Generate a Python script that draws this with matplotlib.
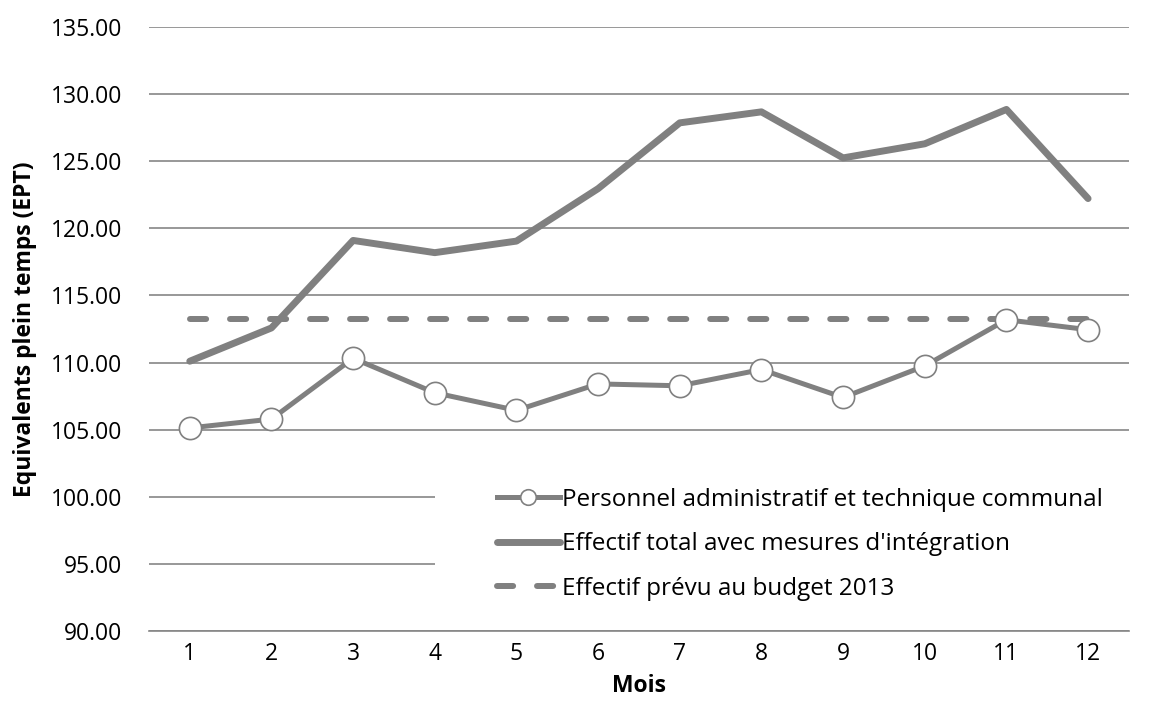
import matplotlib
matplotlib.use("Agg")
import matplotlib.pyplot as plt
from matplotlib.patches import Rectangle

# valeurs
mois = list(range(1, 13))
personnel = [105.13, 105.79, 110.32, 107.75, 106.44, 108.41,
             108.27, 109.48, 107.40, 109.75, 113.19, 112.45]
effectif_total = [110.10, 112.58, 119.10, 118.19, 119.05, 122.96,
                  127.86, 128.68, 125.25, 126.30, 128.86, 122.22]
budget = [113.25] * 12
y_ticks = [90, 95, 100, 105, 110, 115, 120, 125, 130, 135]

gris = "#808080"
fs = 16.5
plt.rcParams["font.family"] = ["Open Sans", "DejaVu Sans"]

fig = plt.figure(figsize=(11.6, 7.04), dpi=100)
ax = fig.add_axes([0.1284, 0.1037, 0.8448, 0.8579])

ax.plot(mois, effectif_total, color=gris, lw=5, solid_capstyle="round",
        solid_joinstyle="round", label="Effectif total avec mesures d'intégration", zorder=3)
ax.plot(mois, budget, color=gris, lw=4.3, linestyle=(0, (2.7, 4.0)),
        dash_capstyle="round", label="Effectif prévu au budget 2013", zorder=3)
ax.plot(mois, personnel, color=gris, lw=3.6, marker="o", markersize=16,
        markerfacecolor="white", markeredgecolor=gris, markeredgewidth=1.2,
        label="Personnel administratif et technique communal", zorder=4)

ax.set_xlim(0.5, 12.5)
ax.set_ylim(90, 135)
ax.set_xticks(mois)
ax.set_yticks(y_ticks)
ax.set_yticklabels([f"{v:.2f}" for v in y_ticks])
ax.grid(axis="y", color="#868686", lw=1.2, zorder=0)
ax.set_axisbelow(True)
for s in ["top", "right", "left"]:
    ax.spines[s].set_visible(False)
ax.spines["bottom"].set_color("#868686")
ax.spines["bottom"].set_linewidth(1.2)
ax.tick_params(axis="both", length=0, labelsize=fs, colors="black")
ax.tick_params(axis="y", pad=19)
ax.tick_params(axis="x", pad=8)

ax.set_ylabel("Equivalents plein temps (EPT)", fontsize=fs, fontweight="bold")
ax.set_xlabel("Mois", fontsize=fs, fontweight="bold")
ax.yaxis.set_label_coords(-0.126, 0.5)
ax.yaxis.label.set_va("center")
ax.xaxis.set_label_coords(0.5, -0.091)
ax.xaxis.label.set_va("center")

# fond blanc de la légende (masque les lignes de grille)
ax.add_patch(Rectangle((0.2918, 0.035), 0.7082, 0.256, transform=ax.transAxes,
                       facecolor="white", edgecolor="none", zorder=1))

h, l = ax.get_legend_handles_labels()
order = [2, 0, 1]
leg = ax.legend([h[i] for i in order], [l[i] for i in order],
                loc="upper left", bbox_to_anchor=(0.355, 0.237),
                frameon=False, fontsize=17.5, markerscale=0.7,
                handlelength=2.6, handletextpad=0.1, labelspacing=0.84,
                borderpad=0, borderaxespad=0)
leg.set_zorder(5)

fig.savefig("out.png", dpi=100)
